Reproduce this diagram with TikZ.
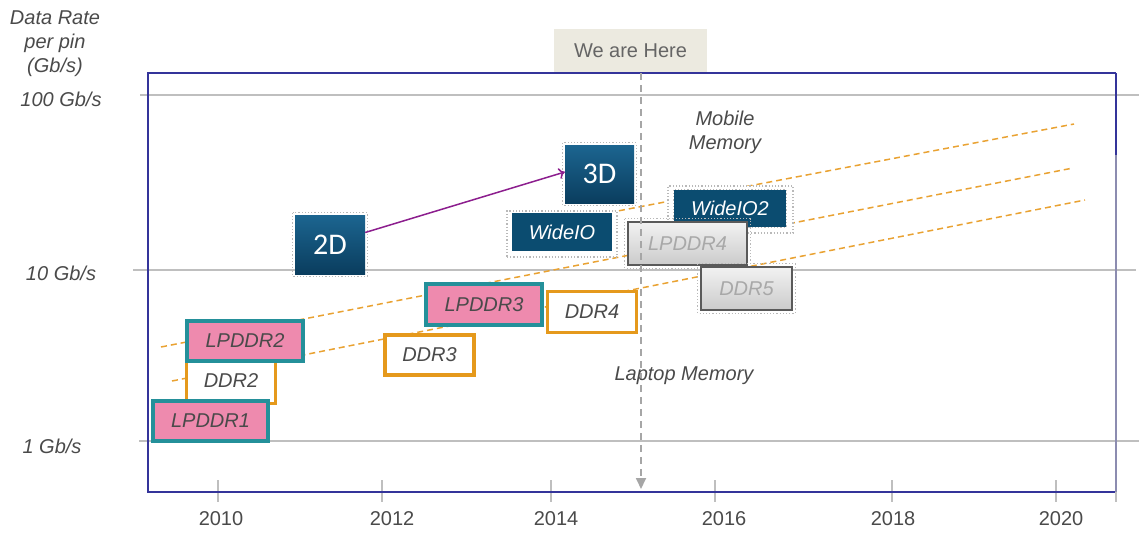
\documentclass[tikz,border=0pt]{standalone}
\usepackage{fontspec}
\setmainfont{Liberation Sans}
\newfontfamily\calfont{Carlito}
\usetikzlibrary{arrows.meta}

\definecolor{framec}{HTML}{34349A}
\definecolor{framelt}{HTML}{8C8CB0}
\definecolor{gridc}{HTML}{BFBFBF}
\definecolor{txtc}{HTML}{4A4A4A}
\definecolor{pinkc}{HTML}{EE8AAE}
\definecolor{tealc}{HTML}{24909A}
\definecolor{orangec}{HTML}{E5991C}
\definecolor{trendc}{HTML}{E9A232}
\definecolor{blueT}{HTML}{1C6590}
\definecolor{blueB}{HTML}{0A3D5E}
\definecolor{wioc}{HTML}{0B4C70}
\definecolor{greyT}{HTML}{F2F2F2}
\definecolor{greyB}{HTML}{CBCBCB}
\definecolor{greyE}{HTML}{5A5A5A}
\definecolor{greyTx}{HTML}{A8A8A8}
\definecolor{beige}{HTML}{ECEAE0}
\definecolor{purp}{HTML}{8C1E8E}
\definecolor{nowc}{HTML}{A6A6A6}

\newcommand{\halo}[2]{%
  \draw[halostyle] ([shift={(-#2,#2)}]#1.north west) rectangle ([shift={(#2,-#2)}]#1.south east);}

\begin{document}
\begin{tikzpicture}[x=1pt,y=-1pt,
  txt/.style={font=\fontsize{20}{24}\selectfont, text=txtc},
  itxt/.style={font=\fontsize{20}{24}\selectfont\itshape, text=txtc},
  lpbox/.style={itxt, draw=tealc, line width=3.8pt, fill=pinkc, inner sep=0pt},
  ddrbox/.style={itxt, draw=orangec, line width=3.4pt, fill=white, inner sep=0pt},
  blk/.style={top color=blueT, bottom color=blueB, draw=none, text=white,
              font=\calfont\fontsize{30}{30}\selectfont, inner sep=0pt},
  wio/.style={itxt, fill=wioc, text=white, inner sep=0pt},
  wioframe/.style={fill=white, draw=gray!55, dotted, line width=1.2pt, inner sep=0pt},
  gbox/.style={itxt, top color=greyT, bottom color=greyB, draw=greyE, line width=1.4pt,
               text=greyTx, inner sep=0pt},
  halostyle/.style={draw=gray!55, dotted, line width=1.2pt},
  gridline/.style={draw=gridc, line width=1.4pt},
  tick/.style={draw=gridc, line width=1.2pt},
  trend/.style={draw=trendc, line width=1.5pt, dash pattern=on 6pt off 4pt},
  axis/.style={draw=framec, line width=2pt},
  yr/.style={txt, anchor=base}
]
\useasboundingbox (0,0) rectangle (1139,533);

% horizontal grid lines for 1, 10 and 100 Gb/s
\draw[gridline] (140,95) -- (1139,95);
\draw[gridline] (133,270) -- (1136,270);
\draw[gridline] (139,441) -- (1139,441);

% year ticks
\foreach \x in {218,382,551,715,892,1056}
  \draw[tick] (\x,480) -- (\x,502);

% plot frame
\draw[axis] (1116,73) -- (148,73) -- (148,492) -- (1116,492);
\draw[axis] (1116,73) -- (1116,155);
\draw[draw=framelt, line width=2pt] (1116,155) -- (1116,492);
\draw[draw=gridc, line width=1.4pt] (1116,492) -- (1116,502);

% trend lines
\coordinate (ta0) at (560,222);   \coordinate (ta1) at (1074,124);
\coordinate (tb0) at (161,347);   \coordinate (tb1) at (1073,168);
\coordinate (tc0) at (172,381);   \coordinate (tc1) at (1085,200);
\draw[trend] (ta0) -- (ta1);
\draw[trend] (tb0) -- (tb1);
\draw[trend] (tc0) -- (tc1);

% memory generations
\node[ddrbox, minimum width=89pt, minimum height=45pt] (ddr2) at (231,381) {DDR2};
\node[lpbox, minimum width=116pt, minimum height=40pt] (lp2) at (245,341) {LPDDR2};
\node[lpbox, minimum width=115pt, minimum height=40pt] (lp1) at (210.5,421) {LPDDR1};
\node[ddrbox, minimum width=89pt, minimum height=40pt] (ddr3) at (429.5,355) {DDR3};
\node[lpbox, minimum width=116pt, minimum height=41pt] (lp3) at (484,304.5) {LPDDR3};
\node[ddrbox, minimum width=88.5pt, minimum height=40.5pt] (ddr4) at (592,312) {DDR4};

% packaging
\node[blk, minimum width=70pt, minimum height=59pt] (twoD) at (330,244.5) {2D};
\node[blk, minimum width=69pt, minimum height=58pt] (threeD) at (599.5,174) {3D};
\halo{twoD}{2pt}
\halo{threeD}{2pt}
\draw[draw=purp, line width=1.5pt, -{To[length=6pt,width=11pt]}]
  ([yshift=12pt]twoD.east) -- ([yshift=2pt]threeD.west);

% wide I/O
\node[wioframe, minimum width=110pt, minimum height=46pt] (wiof) at (562,234) {};
\node[wio, minimum width=100pt, minimum height=38pt] (wio) at (562,232) {WideIO};
\node[wioframe, minimum width=125pt, minimum height=47pt] (wio2f) at (730.5,209.5) {};
\node[wio, minimum width=112pt, minimum height=37pt] (wio2) at (730,208.5) {WideIO2};

% future parts
\halo{wio2}{0pt}
\node[gbox, minimum width=119pt, minimum height=43pt] (lp4) at (687.5,243.5) {LPDDR4};
\halo{lp4}{2.5pt}
\node[gbox, minimum width=91pt, minimum height=43pt] (ddr5) at (746.5,288.5) {DDR5};
\halo{ddr5}{2.5pt}

% current time marker
\node[txt, fill=beige, minimum width=153pt, minimum height=43pt, text=txtc!85] (here) at (630.5,50.5) {We are Here};
\coordinate (nowtop) at (641,73);
\coordinate (nowbot) at (641,489);
\draw[draw=nowc, line width=1.8pt, dash pattern=on 7pt off 5pt,
      -{Triangle[length=11pt,width=10pt]}] (nowtop) -- (nowbot);

% region labels
\node[itxt, align=center] (mobile) at (725,132) {Mobile\\Memory};
\node[itxt, anchor=base] (laptop) at (684,380) {Laptop Memory};

% y axis labels
\node[itxt, align=center] (ytitle) at (55,44) {Data Rate\\per pin\\(Gb/s)};
\node[itxt, anchor=base] (y100) at (61,106) {100 Gb/s};
\node[itxt, anchor=base] (y10) at (61,280) {10 Gb/s};
\node[itxt, anchor=base] (y1) at (52,453) {1 Gb/s};

% x axis labels
\node[yr] (x2010) at (221,525) {2010};
\node[yr] (x2012) at (392,525) {2012};
\node[yr] (x2014) at (556,525) {2014};
\node[yr] (x2016) at (724,525) {2016};
\node[yr] (x2018) at (893,525) {2018};
\node[yr] (x2020) at (1061,525) {2020};
\end{tikzpicture}
\end{document}
